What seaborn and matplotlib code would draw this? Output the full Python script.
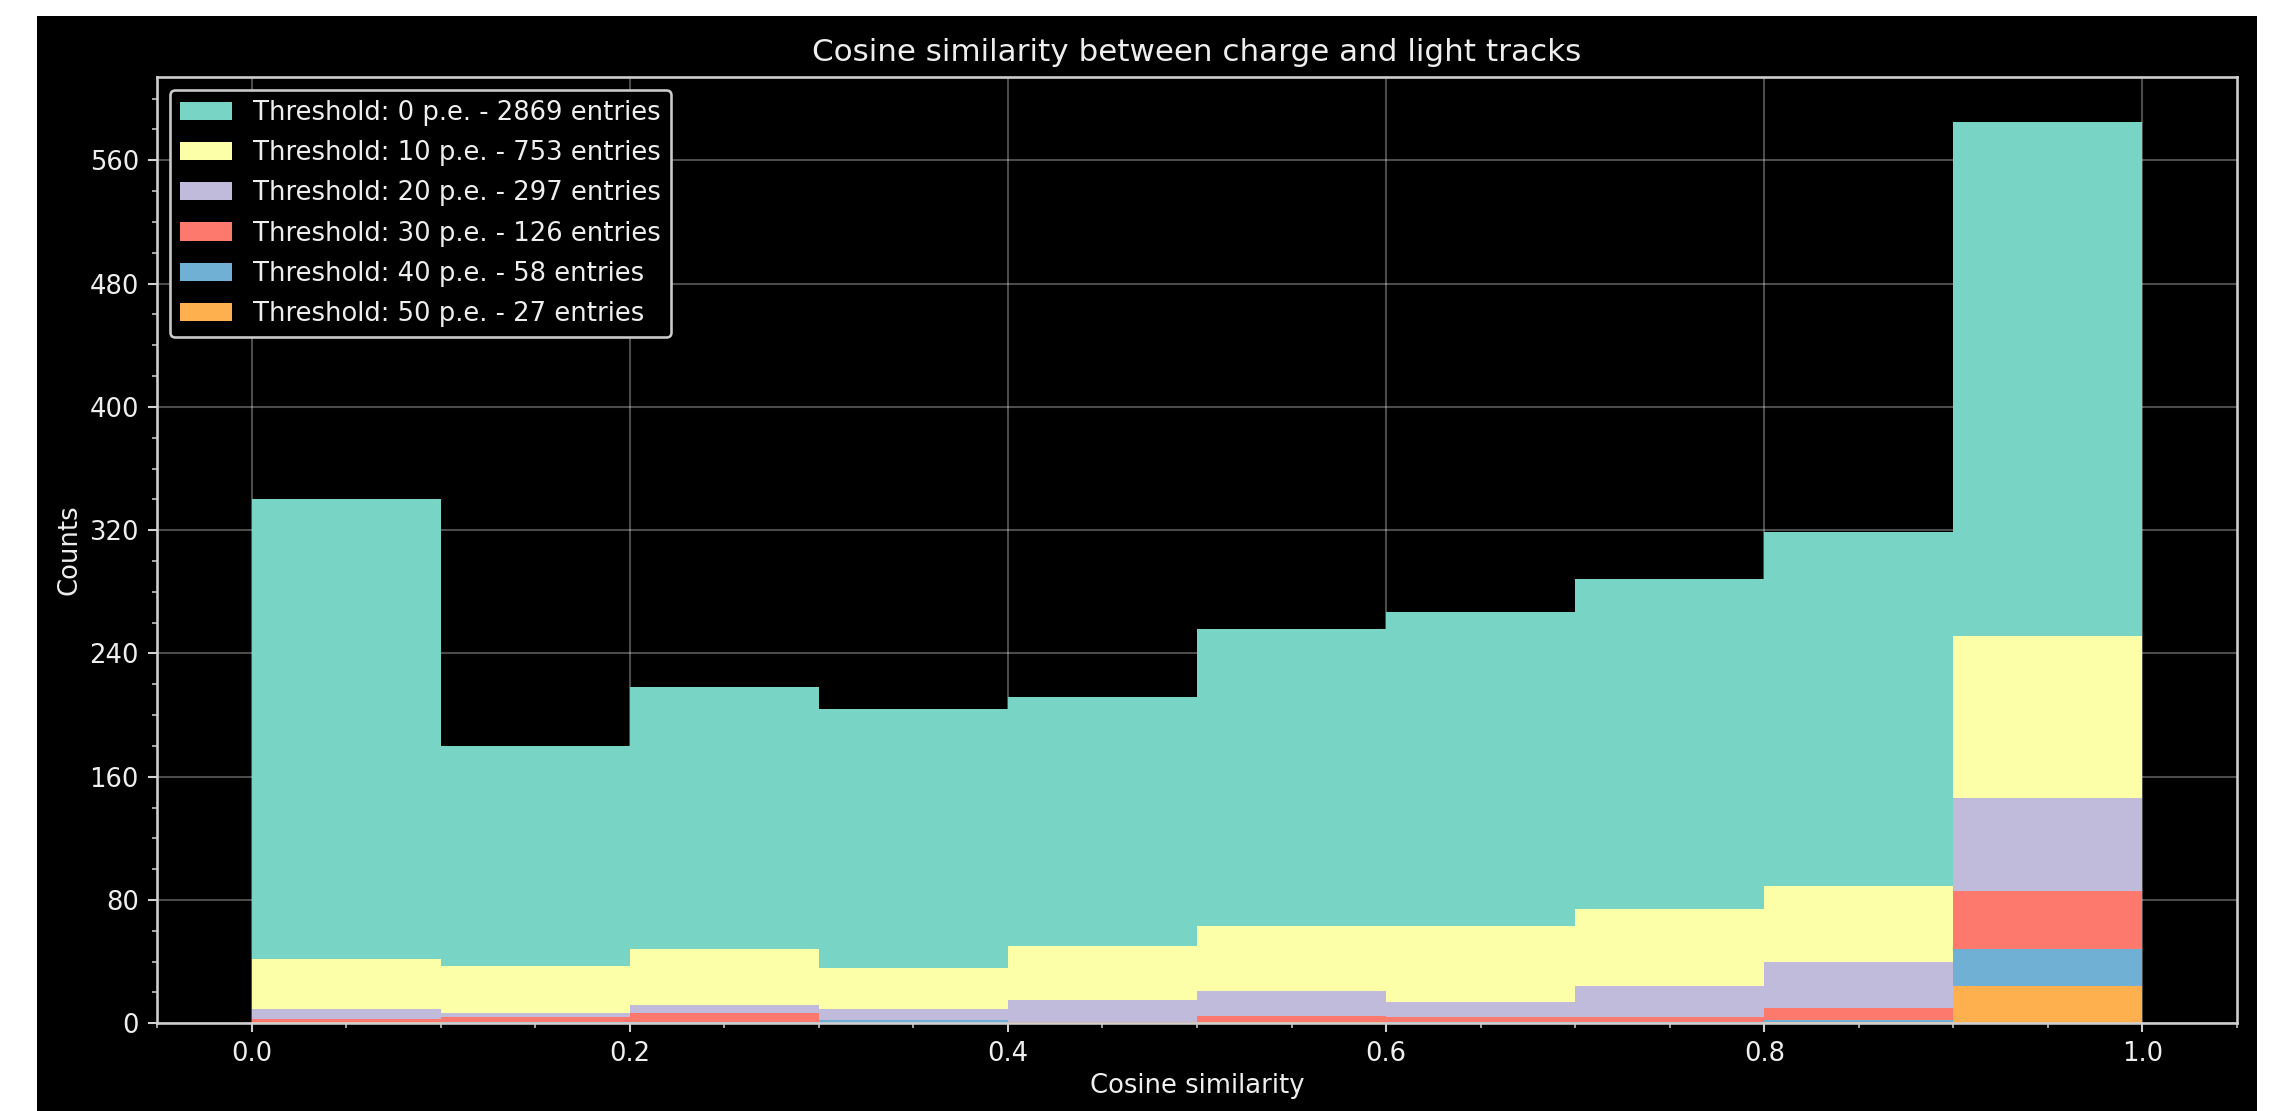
import numpy as np
import pandas as pd
import matplotlib
matplotlib.use("Agg")
import matplotlib.pyplot as plt
import seaborn as sns
from matplotlib.ticker import MultipleLocator, AutoMinorLocator
from matplotlib.patches import Rectangle

# Histogram binning of the cosine similarity (10 equal bins on [0, 1])
bin_edges = [0.0, 0.1, 0.2, 0.3, 0.4, 0.5, 0.6, 0.7, 0.8, 0.9, 1.0]
bin_centers = [0.05, 0.15, 0.25, 0.35, 0.45, 0.55, 0.65, 0.75, 0.85, 0.95]

# Light-threshold cuts in photo-electrons
thresholds = [0, 10, 20, 30, 40, 50]

# Counts per bin for each threshold
counts_0 = [340, 180, 218, 204, 212, 256, 267, 288, 319, 585]
counts_10 = [42, 37, 48, 36, 50, 63, 63, 74, 89, 251]
counts_20 = [9, 7, 12, 9, 15, 21, 14, 24, 40, 146]
counts_30 = [3, 4, 7, 2, 1, 5, 4, 4, 10, 86]
counts_40 = [1, 1, 1, 2, 0, 1, 1, 1, 2, 48]
counts_50 = [1, 0, 0, 0, 0, 1, 0, 0, 1, 24]

all_counts = [counts_0, counts_10, counts_20, counts_30, counts_40, counts_50]
colors = ["#78d5c6", "#fdfea8", "#c0badb", "#fd786d", "#70b0d4", "#feb04f"]

plt.style.use("dark_background")
plt.rcParams["font.family"] = ["DejaVu Sans"]

W, H, DPI = 2271, 1111, 186
fig = plt.figure(figsize=(W / DPI, H / DPI), dpi=DPI, facecolor="white")
# black canvas behind the plot
fig.patches.append(Rectangle((37 / W, 0), (2257 - 37) / W, (H - 16) / H,
                             transform=fig.transFigure, facecolor="black",
                             edgecolor="none", zorder=-10))
ax = fig.add_axes([157 / W, 1 - 1023.3 / H, (2237 - 157) / W, (1023.3 - 76.7) / H])
ax.set_facecolor("black")

for thr, cnt, col in zip(thresholds, all_counts, colors):
    df = pd.DataFrame({"similarity": bin_centers, "n": cnt})
    sns.histplot(data=df, x="similarity", weights="n", bins=bin_edges,
                 element="step", fill=True, alpha=1.0, linewidth=0,
                 color=col, ax=ax,
                 label=f"Threshold: {thr} p.e. - {int(np.sum(cnt))} entries")

ax.set_xlim(-0.05, 1.05)
ax.set_ylim(0, max(counts_0) * 1.05)
ax.yaxis.set_major_locator(MultipleLocator(80))
ax.yaxis.set_minor_locator(AutoMinorLocator(4))
ax.xaxis.set_major_locator(MultipleLocator(0.2))
ax.xaxis.set_minor_locator(AutoMinorLocator(4))

ax.set_axisbelow(True)
ax.grid(True, which="major", color="white", alpha=0.3, linewidth=0.8)
for s in ax.spines.values():
    s.set_color("#d0d0d0")
    s.set_linewidth(1.0)
ax.tick_params(which="both", colors="#d0d0d0", labelcolor="#eeeeee")

ax.set_title("Cosine similarity between charge and light tracks", fontsize=12,
             color="#eeeeee")
ax.set_xlabel("Cosine similarity", color="#eeeeee", labelpad=2.3)
ax.set_ylabel("Counts", color="#eeeeee", labelpad=2.8)

leg = ax.legend(loc="upper left", frameon=True, facecolor="black",
                edgecolor="#cccccc", framealpha=1.0, labelspacing=0.55)
for t in leg.get_texts():
    t.set_color("#eeeeee")

fig.savefig("out.png", dpi=DPI, facecolor=fig.get_facecolor())
